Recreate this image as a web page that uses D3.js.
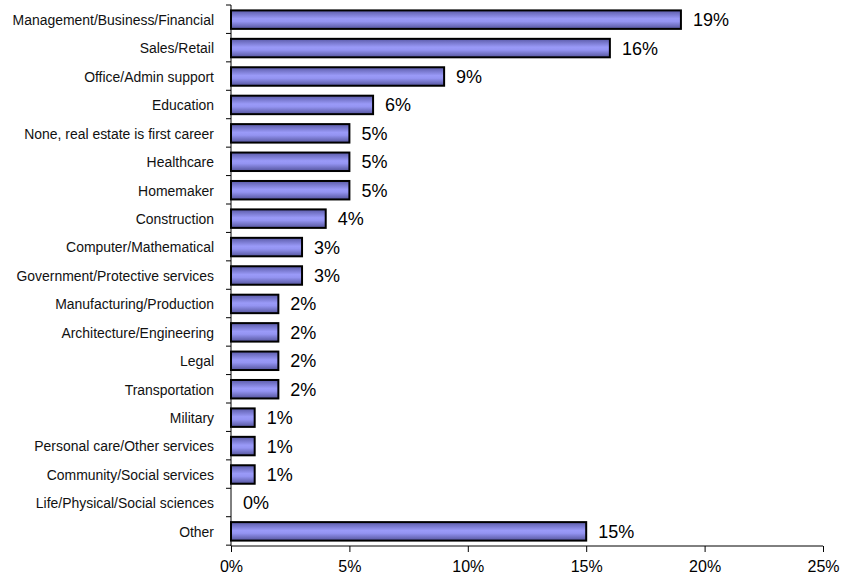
<!DOCTYPE html>
<html>
<head>
<meta charset="utf-8">
<script src="https://cdn.jsdelivr.net/npm/d3@7"></script>
<style>
  html, body { margin: 0; padding: 0; background: #fff; }
  svg { display: block; }
  .cat { font-family: "Liberation Sans", Arial, sans-serif; font-size: 15px; fill: #111; }
  .val { font-family: "Liberation Sans", Arial, sans-serif; font-size: 18px; fill: #000; }
  .xt { font-family: "Liberation Sans", Arial, sans-serif; font-size: 16px; fill: #000; }
</style>
</head>
<body>
<svg id="chart" width="858" height="577"></svg>
<script>
// Previous career of respondents, share of total
const categories = [
  "Management/Business/Financial",
  "Sales/Retail",
  "Office/Admin support",
  "Education",
  "None, real estate is first career",
  "Healthcare",
  "Homemaker",
  "Construction",
  "Computer/Mathematical",
  "Government/Protective services",
  "Manufacturing/Production",
  "Architecture/Engineering",
  "Legal",
  "Transportation",
  "Military",
  "Personal care/Other services",
  "Community/Social services",
  "Life/Physical/Social sciences",
  "Other"
];
const shares = [19, 16, 9, 6, 5, 5, 5, 4, 3, 3, 2, 2, 2, 2, 1, 1, 1, 0, 15];
const xTicks = [0, 5, 10, 15, 20, 25];

const svg = d3.select("#chart");
const margin = { top: 5, left: 231, right: 35, bottom: 31 };
const W = 858, H = 577;
const innerW = W - margin.left - margin.right;
const innerH = H - margin.top - margin.bottom;

const x = d3.scaleLinear().domain([0, 25]).range([0, innerW]);
const y = d3.scaleBand().domain(categories).range([0, innerH]).paddingInner(0.35).paddingOuter(0.19);

const defs = svg.append("defs");
const grad = defs.append("linearGradient")
  .attr("id", "barFill").attr("x1", 0).attr("y1", 0).attr("x2", 0).attr("y2", 1);
[[0, "#5a5aa8"], [0.45, "#9a9af8"], [0.6, "#9494f2"], [1, "#54549c"]].forEach(([o, c]) =>
  grad.append("stop").attr("offset", o).attr("stop-color", c));

const g = svg.append("g").attr("transform", `translate(${margin.left},${margin.top})`);
const rows = categories.map((c, i) => ({ c, v: shares[i] }));

// bars
g.selectAll("rect.bar")
  .data(rows)
  .join("rect")
  .attr("class", "bar")
  .attr("x", 0)
  .attr("y", d => y(d.c))
  .attr("width", d => x(d.v))
  .attr("height", y.bandwidth())
  .attr("fill", "url(#barFill)")
  .attr("stroke", d => d.v > 0 ? "#000" : "none")
  .attr("stroke-width", 2);

// value labels
g.selectAll("text.val")
  .data(rows)
  .join("text")
  .attr("class", "val")
  .attr("x", d => x(d.v) + 12)
  .attr("y", d => y(d.c) + y.bandwidth() / 2)
  .attr("dy", "0.36em")
  .text(d => d.v + "%");

// y axis: line with ticks at category boundaries
const yAxis = g.append("g");
yAxis.append("line")
  .attr("x1", 0).attr("x2", 0).attr("y1", 0).attr("y2", innerH)
  .attr("stroke", "#000").attr("stroke-width", 1);
const bounds = d3.range(categories.length + 1).map(i => i * y.step());
yAxis.selectAll("line.tk").data(bounds).join("line")
  .attr("class", "tk")
  .attr("x1", -5).attr("x2", 0)
  .attr("y1", d => d).attr("y2", d => d)
  .attr("stroke", "#000");
// category names in a slightly condensed face
yAxis.selectAll("text.cat").data(categories).join("text")
  .attr("class", "cat")
  .attr("transform", d => `translate(-17,${y(d) + y.bandwidth() / 2}) scale(0.93,1)`)
  .attr("dy", "0.36em")
  .attr("text-anchor", "end")
  .text(d => d);

// x axis
const xAxis = g.append("g").attr("transform", `translate(0,${innerH})`)
  .call(d3.axisBottom(x).tickValues(xTicks).tickFormat(d => d + "%").tickSize(6).tickPadding(9));
xAxis.attr("font-family", null).attr("font-size", null);
xAxis.select(".domain").attr("stroke", "#000").attr("d", `M0,0H${innerW}`);
xAxis.selectAll(".tick line").attr("stroke", "#000");
xAxis.selectAll(".tick text").attr("class", "xt");
</script>
</body>
</html>
